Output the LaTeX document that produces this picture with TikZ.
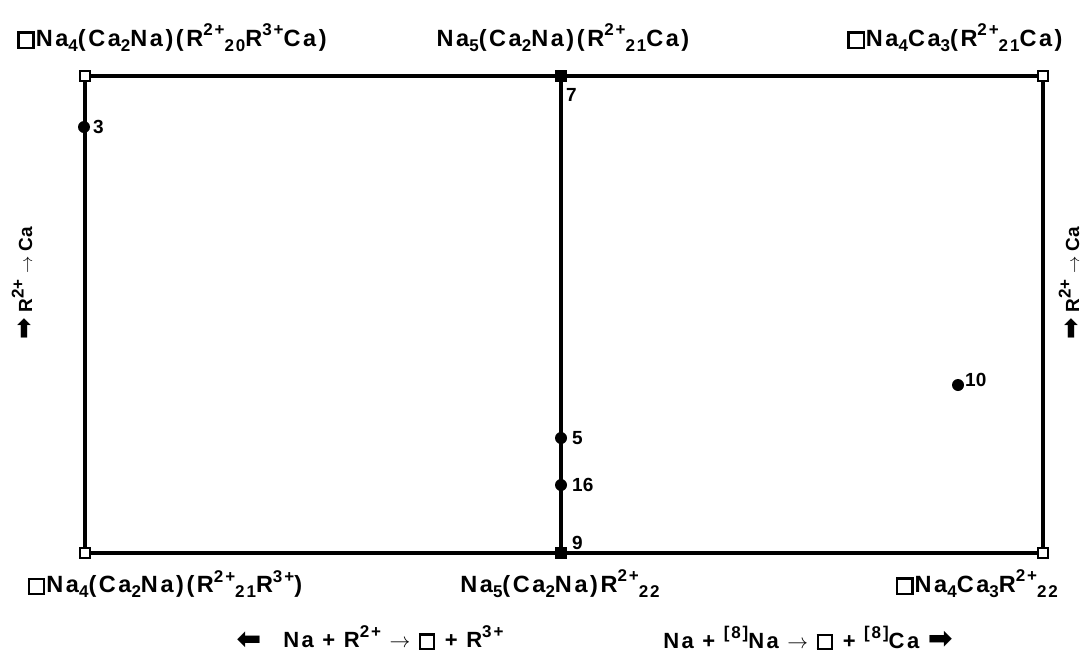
\documentclass[tikz,border=0pt]{standalone}
\usepackage{fontspec}
\setmainfont{Liberation Sans}
\newfontfamily\lblf[LetterSpace=11]{Liberation Sans}
\newfontfamily\djv{DejaVu Sans}
\newcommand{\fatR}{\scalebox{1.35}{\djv\char"27A1}}
\newcommand{\fatL}{\rotatebox[origin=c]{180}{\scalebox{1.35}{\djv\char"27A1}}}
\newcommand{\vac}{{\setlength{\fboxsep}{0pt}\setlength{\fboxrule}{2.2pt}\fbox{\rule{0pt}{0.55em}\hspace{0.55em}}\hspace{0.05em}}}
\newcommand{\sps}[1]{\raisebox{0.45em}{\fontsize{17}{17}\selectfont #1}}
\newcommand{\sbs}[1]{\raisebox{-0.22em}{\fontsize{17}{17}\selectfont #1}}
\tikzset{
  frame/.style={line width=3.2pt},
  opensq/.style={draw, fill=white, minimum size=10pt, inner sep=0pt, line width=1.6pt},
  fillsq/.style={draw, fill=black, minimum size=11pt, inner sep=0pt},
  dot/.style={circle, fill=black, minimum size=12pt, inner sep=0pt},
  lbl/.style={font=\lblf\bfseries\fontsize{23.5}{26}\selectfont, inner sep=0pt},
  rxn/.style={font=\lblf\bfseries\fontsize{22}{24}\selectfont, inner sep=0pt},
  side/.style={font=\bfseries\fontsize{19}{21}\selectfont, inner sep=0pt, rotate=90},
  num/.style={font=\bfseries\fontsize{19}{21}\selectfont, inner sep=0pt, anchor=west}
}
\begin{document}
\begin{tikzpicture}[x=1pt,y=-1pt]
\useasboundingbox (0,0) rectangle (1087,662);
\coordinate (TL) at (85,76);
\coordinate (TM) at (561,76);
\coordinate (TR) at (1043,76);
\coordinate (BL) at (85,553);
\coordinate (BM) at (561,553);
\coordinate (BR) at (1043,553);
\draw[frame] (TL) -- (TM) -- (TR) -- (BR) -- (BM) -- (BL) -- cycle;
\draw[frame] (TM) -- (BM);
\node[opensq] (tl) at (TL) {};
\node[opensq] (tr) at (TR) {};
\node[opensq] (bl) at (BL) {};
\node[opensq] (br) at (BR) {};
\node[fillsq] (tm) at (TM) {};
\node[fillsq] (bm) at (BM) {};
\node[dot] (p3) at (84,127) {};
\node[dot] (p5) at (561,438) {};
\node[dot] (p16) at (561,485) {};
\node[dot] (p10) at (958,385) {};
\node[num] (l3) at (93,127) {3};
\node[num] (l7) at (566,95) {7};
\node[num] (l5) at (572,438) {5};
\node[num] (l16) at (572,485) {16};
\node[num] (l9) at (572,543) {9};
\node[num] (l10) at (965,380) {10};
% top labels
\node[lbl] (t1) at (172,38) {\vac Na\sbs{4}(Ca\sbs{2}Na)(R\sps{2+}\sbs{20}R\sps{3+}Ca)};
\node[lbl] (t2) at (563,38) {Na\sbs{5}(Ca\sbs{2}Na)(R\sps{2+}\sbs{21}Ca)};
\node[lbl] (t3) at (955,38) {\vac Na\sbs{4}Ca\sbs{3}(R\sps{2+}\sbs{21}Ca)};
% bottom labels
\node[lbl] (b1) at (165,584) {\vac Na\sbs{4}(Ca\sbs{2}Na)(R\sps{2+}\sbs{21}R\sps{3+})};
\node[lbl] (b2) at (560,584) {Na\sbs{5}(Ca\sbs{2}Na)R\sps{2+}\sbs{22}};
\node[lbl] (b3) at (977,584) {\vac Na\sbs{4}Ca\sbs{3}R\sps{2+}\sbs{22}};
% reaction labels
\node[rxn] (r1) at (370,638) {\fatL\quad Na + R\sps{2+} $\rightarrow$ \vac{} + R\sps{3+}};
\node[rxn] (r2) at (808,638) {Na + \sps{[8]}Na $\rightarrow$ \vac{} + \sps{[8]}Ca \fatR};
\node[side] (s1) at (22,283) {\fatR\ R\sps{2+} $\rightarrow$ Ca};
\node[side] (s2) at (1069,283) {\fatR\ R\sps{2+} $\rightarrow$ Ca};
\end{tikzpicture}
\end{document}
